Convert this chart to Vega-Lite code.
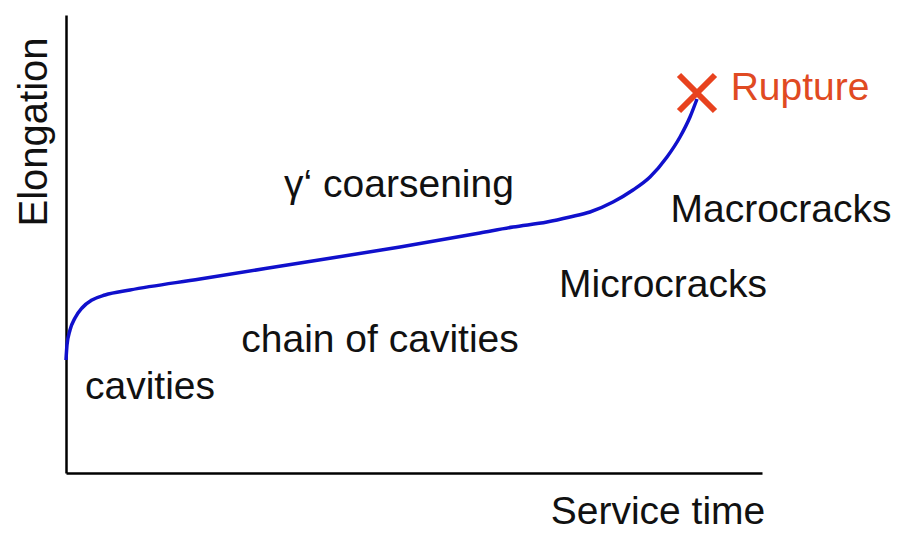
{
  "$schema": "https://vega.github.io/schema/vega-lite/v6.json",
  "width": 696,
  "height": 458,
  "autosize": {"type": "none"},
  "padding": {"left": 66, "top": 15, "right": 135, "bottom": 63},
  "background": "white",
  "config": {"view": {"stroke": null}, "font": "Liberation Sans"},
  "datasets": {
    "curve": [
      {"t": 0, "e": 113},
      {"t": 1, "e": 128},
      {"t": 4, "e": 143},
      {"t": 9, "e": 155},
      {"t": 16, "e": 165},
      {"t": 26, "e": 173},
      {"t": 39, "e": 178},
      {"t": 64, "e": 183},
      {"t": 134, "e": 194},
      {"t": 234, "e": 210},
      {"t": 334, "e": 226},
      {"t": 414, "e": 240},
      {"t": 447, "e": 246},
      {"t": 481, "e": 251},
      {"t": 504, "e": 256},
      {"t": 524, "e": 261},
      {"t": 547, "e": 271},
      {"t": 567, "e": 283},
      {"t": 584, "e": 296},
      {"t": 601, "e": 316},
      {"t": 614, "e": 336},
      {"t": 624, "e": 356},
      {"t": 631, "e": 374}
    ],
    "labels": [
      {"label": "γ‘ coarsening", "t": 333, "e": 288, "kind": "stage"},
      {"label": "chain of cavities", "t": 314, "e": 133, "kind": "stage"},
      {"label": "cavities", "t": 84, "e": 86, "kind": "stage"},
      {"label": "Microcracks", "t": 597, "e": 188, "kind": "stage"},
      {"label": "Macrocracks", "t": 715, "e": 263, "kind": "stage"},
      {"label": "Rupture", "t": 734, "e": 385, "kind": "rupture"},
      {"label": "Service time", "t": 592, "e": -39, "kind": "stage"}
    ],
    "rupture": [{"t": 631, "e": 380}],
    "ytitle": [{"label": "Elongation", "t": -31, "e": 341}]
  },
  "layer": [
    {
      "data": {"name": "curve"},
      "mark": {"type": "line", "color": "#1010cc", "strokeWidth": 3.5, "interpolate": "monotone"},
      "encoding": {
        "x": {"field": "t", "type": "quantitative", "scale": {"domain": [0, 696], "nice": false, "zero": false},
          "axis": {"title": null, "labels": false, "ticks": false, "grid": false, "domainColor": "black", "domainWidth": 2.5}},
        "y": {"field": "e", "type": "quantitative", "scale": {"domain": [0, 458], "nice": false, "zero": false},
          "axis": {"title": null, "labels": false, "ticks": false, "grid": false, "domainColor": "black", "domainWidth": 2.5}}
      }
    },
    {
      "data": {"name": "rupture"},
      "mark": {"type": "point", "shape": "M-1,-1L1,1M-1,1L1,-1", "filled": false, "color": "#e8421e", "strokeWidth": 6, "size": 1296, "opacity": 1},
      "encoding": {
        "x": {"field": "t", "type": "quantitative"},
        "y": {"field": "e", "type": "quantitative"}
      }
    },
    {
      "data": {"name": "labels"},
      "mark": {"type": "text", "fontSize": 39, "align": "center", "baseline": "middle"},
      "encoding": {
        "x": {"field": "t", "type": "quantitative"},
        "y": {"field": "e", "type": "quantitative"},
        "text": {"field": "label"},
        "color": {"field": "kind", "type": "nominal", "scale": {"domain": ["stage", "rupture"], "range": ["#111111", "#e04a22"]}, "legend": null}
      }
    },
    {
      "data": {"name": "ytitle"},
      "mark": {"type": "text", "fontSize": 40, "align": "center", "baseline": "middle", "angle": 270, "color": "#111111"},
      "encoding": {
        "x": {"field": "t", "type": "quantitative"},
        "y": {"field": "e", "type": "quantitative"},
        "text": {"field": "label"}
      }
    }
  ]
}
